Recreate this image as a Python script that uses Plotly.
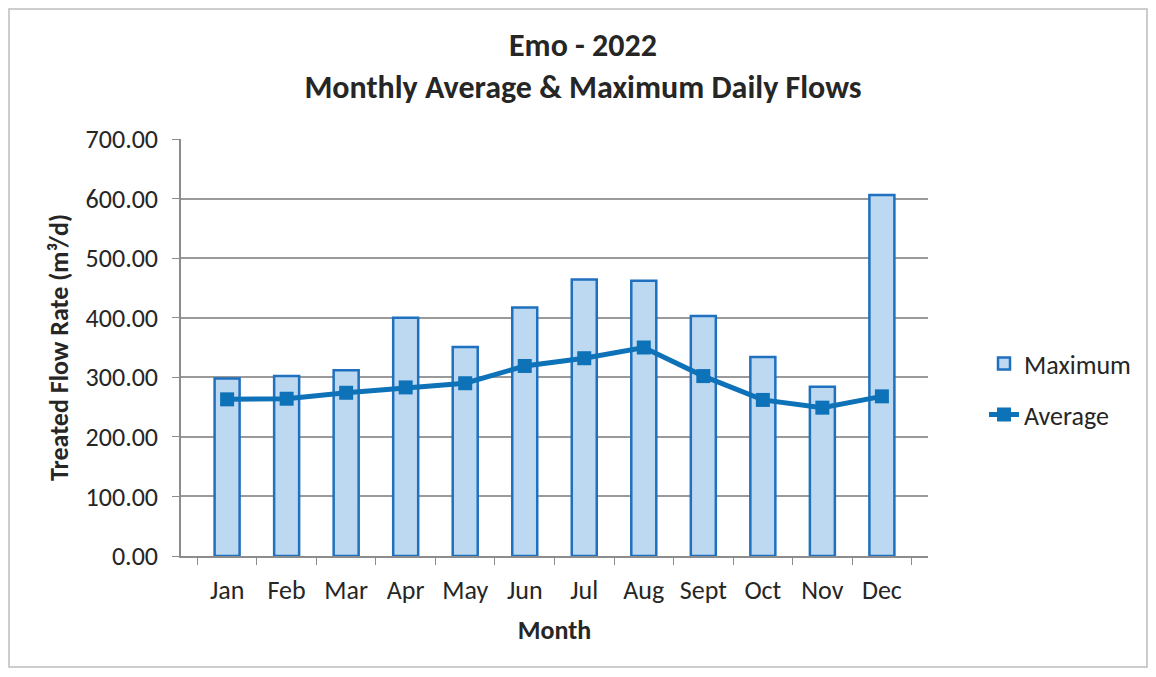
import plotly.graph_objects as go

months = ["Jan", "Feb", "Mar", "Apr", "May", "Jun", "Jul", "Aug", "Sept", "Oct", "Nov", "Dec"]
maximum = [298, 302, 312, 400, 351, 417, 464, 462, 403, 334, 284, 606]
average = [263, 264, 274, 283, 290, 319, 332, 350, 302, 262, 249, 268]
y_ticks = [0, 100, 200, 300, 400, 500, 600, 700]

FONT = "Carlito, Lato, 'Open Sans', sans-serif"
# page has an 8px body margin, so the figure is 16px smaller than the window
W, H = 1140, 661
L, T = 173, 131
PW, PH = 747, 417
R = W - L - PW
B = H - T - PH

fig = go.Figure()
fig.add_trace(go.Bar(
    x=months, y=maximum, name="Maximum", width=0.42, legendgroup="max",
    marker=dict(color="#BDD9F1", line=dict(color="#1F70BF", width=2.5)),
))
fig.add_trace(go.Scatter(
    x=months, y=average, name="Average", mode="lines+markers", legendgroup="avg",
    line=dict(color="#0E72B8", width=5),
    marker=dict(symbol="square", size=14, color="#0E72B8"),
))

fig.add_shape(type="rect", xref="paper", yref="paper",
              x0=(1 - L) / PW, x1=(W - 1 - L) / PW,
              y0=1 - (H - 2 - T) / PH, y1=1 - (1 - T) / PH,
              line=dict(color="#BDBDBD", width=1.5), layer="below")

fig.update_layout(
    width=W, height=H,
    margin=dict(l=L, r=R, t=T, b=B),
    paper_bgcolor="white", plot_bgcolor="white",
    font=dict(family=FONT, size=24, color="#262626"),
    title=dict(text="<b>Emo - 2022</b><br><b>Monthly Average &amp; Maximum Daily Flows</b>",
               x=(575 / W), xanchor="center", y=1 - 48 / H, yanchor="top",
               font=dict(size=32, family=FONT, color="#262626")),
    showlegend=True,
    legend=dict(x=(984 - 181) / PW, xanchor="left", y=0.40, yanchor="middle",
                font=dict(size=26, family=FONT, color="#262626"),
                bgcolor="rgba(0,0,0,0)", tracegroupgap=14),
    bargap=0.5,
)
fig.update_xaxes(
    title=dict(text="<b>Month</b>", font=dict(size=26), standoff=16),
    showline=True, linecolor="#8C8C8C", linewidth=1.5,
    ticks="outside", tickson="boundaries", ticklen=7, tickcolor="#8C8C8C",
    tickfont=dict(size=26), ticklabelstandoff=10, showgrid=False,
)
fig.update_yaxes(
    title=dict(text="<b>Treated Flow Rate (m³/d)</b>", font=dict(size=26), standoff=9),
    range=[0, 700], tickvals=y_ticks, tickformat=".2f",
    showline=True, linecolor="#8C8C8C", linewidth=1.5,
    ticks="outside", ticklen=7, tickcolor="#8C8C8C",
    gridcolor="#9A9A9A", gridwidth=1.5,
    tickfont=dict(size=26), ticklabelstandoff=9, zeroline=False,
)

fig.write_html("out.html")
